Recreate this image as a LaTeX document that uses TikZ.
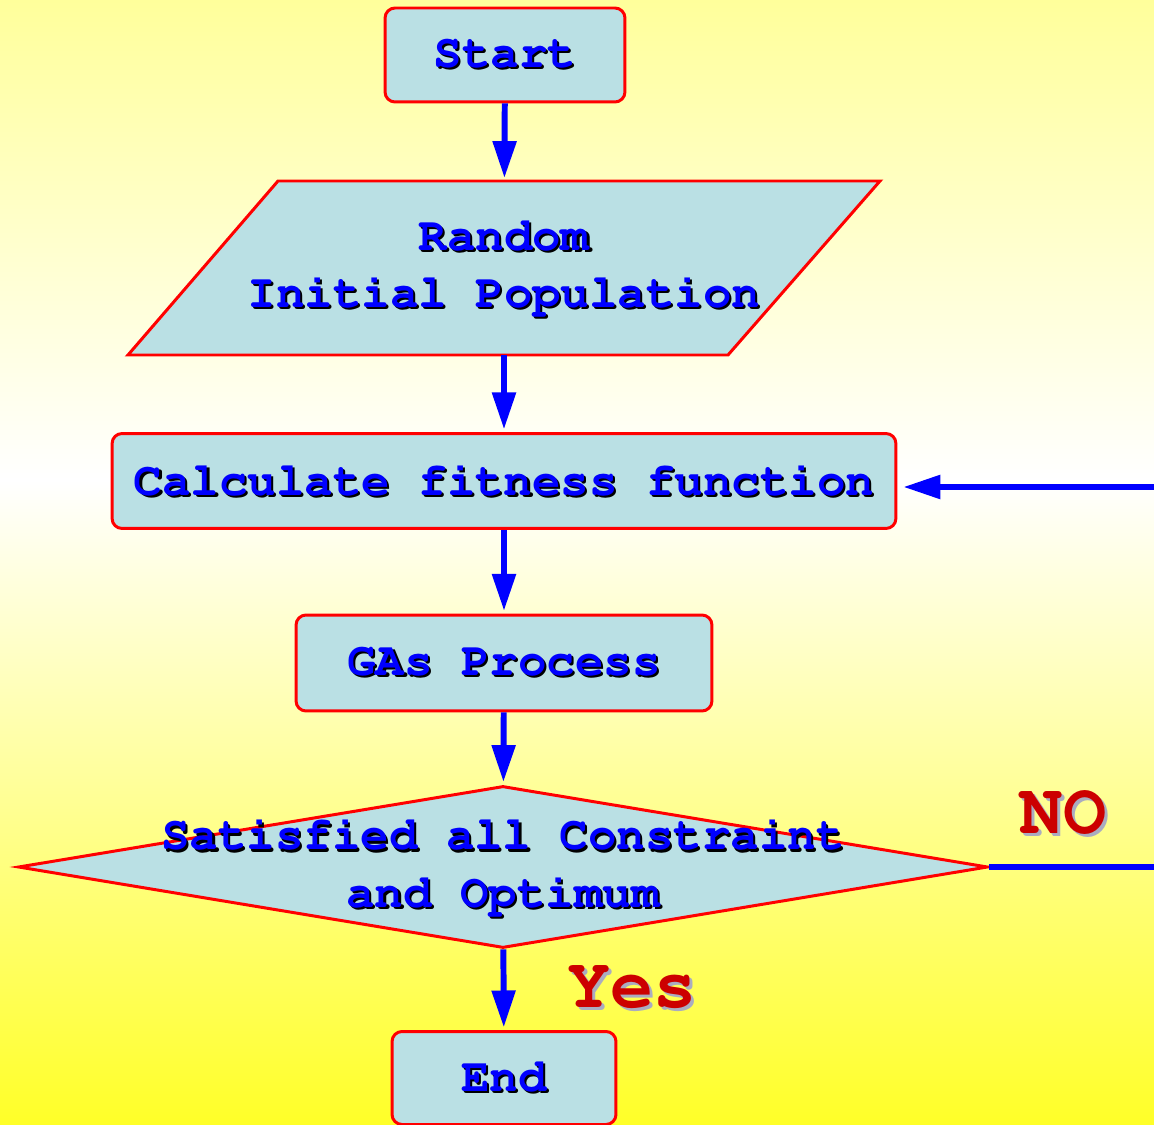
\documentclass[tikz,border=0pt]{standalone}
\usepackage[T1]{fontenc}
\usetikzlibrary{arrows.meta,shapes.geometric}

\definecolor{boxfill}{RGB}{186,224,228}
\definecolor{txtblue}{RGB}{0,0,255}
\definecolor{lblred}{RGB}{204,0,0}
\definecolor{lblshade}{RGB}{170,172,192}
\definecolor{bgtop}{RGB}{255,255,155}
\definecolor{bgbot}{RGB}{255,255,40}

% text with a small drop shadow
\newcommand{\shd}[1]{\makebox[0pt][l]{\hspace{1.2pt}\raisebox{-1.2pt}{\color{black}#1}}#1}
\newcommand{\lshd}[1]{\makebox[0pt][l]{\hspace{1.8pt}\raisebox{-1.8pt}{\color{lblshade}#1}}#1}

\tikzset{
  every node/.style={font=\fontfamily{pcr}\bfseries\fontsize{27}{32.5}\selectfont,
    text=txtblue, align=center, inner sep=0pt},
  box/.style={draw=red, line width=1.7pt, fill=boxfill, rounded corners=0.2cm},
  io/.style={draw=red, line width=1.7pt, fill=boxfill},
  decision/.style={draw=red, line width=1.7pt, fill=boxfill, diamond},
  answer/.style={font=\fontfamily{pcr}\bfseries\fontsize{41}{48}\selectfont, text=lblred},
  flow/.style={draw=txtblue, line width=3.4pt, shorten >=1.5pt,
    -{Triangle[length=21pt,width=13pt]}}
}

\begin{document}
\begin{tikzpicture}[x=0.02cm,y=-0.02cm]
  \useasboundingbox (0,0) rectangle (1154,1125);
  \clip (0,0) rectangle (1154,1125);
  % background
  \shade[top color=bgtop, bottom color=white] (0,0) rectangle (1154,480);
  \shade[top color=white, bottom color=bgbot] (0,480) rectangle (1154,1125);

  % the input parallelogram
  \draw[io] (128,355) -- (728,355) -- (880,181) -- (278,181) -- cycle;

  \node[box, minimum width=4.8cm, minimum height=1.88cm] (start) at (505,55) {\shd{Start}};
  \node[minimum width=15.04cm, minimum height=3.48cm] (rand) at (504,268)
    {\shd{Random}\\\shd{Initial Population}};
  \node[box, minimum width=15.68cm, minimum height=1.9cm] (calc) at (504,481)
    {\shd{Calculate fitness function}};
  \node[box, minimum width=8.32cm, minimum height=1.92cm] (ga) at (504,663) {\shd{GAs Process}};
  \node[decision, minimum width=19.4cm, minimum height=3.24cm,
    label={center:{\shd{Satisfied all Constraint}\\\shd{and Optimum}}}] (check) at (503,867) {};
  \node[box, minimum width=4.48cm, minimum height=1.86cm] (end) at (504,1078) {\shd{End}};

  \node[answer] (no) at (1063,814) {\lshd{NO}};
  \node[answer] (yes) at (632,990) {\lshd{Yes}};

  \draw[flow] (start) -- (rand);
  \draw[flow] (rand) -- (calc);
  \draw[flow] (calc) -- (ga);
  \draw[flow] (ga) -- (check);
  \draw[flow] (check) -- (end);
  \draw[flow, shorten >=3.4pt] (check.east) -- ++(300,0) |- ([yshift=-0.12cm]calc.east);
\end{tikzpicture}
\end{document}
